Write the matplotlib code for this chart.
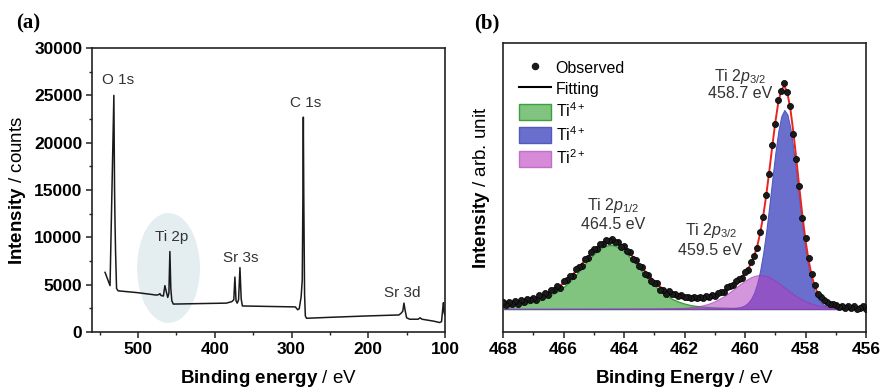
import numpy as np
import matplotlib
matplotlib.use("Agg")
import matplotlib.pyplot as plt
from matplotlib.patches import Ellipse, Patch
from matplotlib.lines import Line2D
from matplotlib.ticker import MultipleLocator

plt.rcParams['font.family'] = ['Liberation Sans', 'DejaVu Sans']
plt.rcParams['mathtext.fontset'] = 'custom'
plt.rcParams['mathtext.rm'] = 'Liberation Sans'
plt.rcParams['mathtext.it'] = 'Liberation Sans:italic'
plt.rcParams['mathtext.bf'] = 'Liberation Sans:bold'

# ---------------- panel (a): survey spectrum ----------------
survey_be = [543, 536.5, 531.5, 530.6, 530.0, 529.3, 528.0, 526.0, 500.0, 476.0, 473.0,
             471.5, 470.0, 467.0, 465.0, 463.0, 461.3, 459.8, 458.5, 457.3, 456.0, 454.0,
             420.0, 385.0, 378.0, 375.2, 373.8, 372.3, 370.8, 369.0, 367.2, 365.6, 364.0,
             330.0, 295.0, 292.0, 290.0, 287.5, 286.0, 285.2, 284.6, 284.0, 283.0, 282.0,
             280.5, 250.0, 200.0, 160.0, 157.0, 155.0, 153.5, 152.0, 150.0, 146.0, 135.0,
             132.5, 130.0, 115.0, 107.0, 104.5, 103.0, 102.0, 101.0, 100.0]
survey_counts = [6300, 4900, 25000, 15000, 11500, 8500, 4600, 4350, 4150, 3900, 3950,
                 4050, 3850, 3800, 4900, 4200, 3650, 4100, 8500, 4600, 3300, 2950,
                 3000, 3050, 3200, 3400, 5800, 3300, 3050, 3400, 6800, 3500, 2750,
                 2700, 2650, 2350, 2450, 3700, 5500, 14000, 22700, 14000, 4000, 1700,
                 1450, 1550, 1700, 1800, 2000, 2200, 3050, 2300, 1500, 1350, 1350,
                 1500, 1350, 1150, 1000, 1100, 2400, 3100, 2000, 1800]
survey_labels = ["O 1s", "Ti 2p", "Sr 3s", "C 1s", "Sr 3d"]
survey_label_be = [526, 456, 366, 281.4, 156]
survey_label_y = [26600, 10060, 7780, 24200, 4150]
survey_yticks = [0, 5000, 10000, 15000, 20000, 25000, 30000]
survey_xticks = [500, 400, 300, 200, 100]

# ---------------- panel (b): Ti 2p high resolution ----------------
be_hr = np.linspace(456.0, 468.0, 121)
observed = [0.1, 2.6, 1.0, -0.2, 3.2, 0.7, 2.8, 1.4, 3.5, 2.4,
            3.9, 4.9, 4.9, 6.8, 8.6, 12.3, 15.3, 24.3, 35.5, 51.1,
            71.2, 91.3, 123.0, 150.5, 174.6, 203.1, 217.2, 226.1, 218.3, 208.9,
            185.3, 164.0, 135.5, 114.4, 91.7, 77.1, 61.1, 53.2, 46.9, 39.1,
            36.9, 30.8, 30.2, 28.5, 23.7, 23.0, 21.7, 16.8, 17.3, 16.4,
            13.2, 14.0, 12.2, 12.9, 11.5, 12.0, 11.3, 12.2, 10.8, 12.3,
            12.2, 13.7, 13.1, 15.1, 14.8, 17.7, 15.2, 19.2, 19.4, 25.6,
            25.8, 28.2, 34.5, 35.3, 42.2, 42.8, 49.3, 50.5, 57.0, 57.9,
            62.8, 62.5, 67.4, 67.3, 69.6, 68.3, 69.0, 65.2, 65.4, 60.5,
            59.8, 57.4, 51.2, 50.1, 42.9, 42.2, 39.8, 33.0, 33.3, 29.1,
            27.8, 21.5, 23.0, 18.8, 19.5, 13.9, 16.0, 12.1, 14.2, 9.4,
            11.5, 8.6, 10.4, 6.6, 8.7, 4.9, 8.2, 5.3, 7.0, 4.3,
            6.9]
ti4_green = [0.25, 0.26, 0.26, 0.27, 0.28, 0.29, 0.29, 0.30, 0.31, 0.32,
             0.33, 0.33, 0.34, 0.35, 0.36, 0.37, 0.38, 0.39, 0.41, 0.42,
             0.43, 0.45, 0.46, 0.47, 0.49, 0.50, 0.52, 0.53, 0.55, 0.57,
             0.59, 0.61, 0.63, 0.66, 0.68, 0.71, 0.74, 0.77, 0.80, 0.83,
             0.87, 0.91, 0.95, 1.00, 1.05, 1.11, 1.18, 1.25, 1.33, 1.42,
             1.55, 1.7, 1.9, 2.1, 2.3, 2.6, 3.0, 3.4, 3.9, 4.6,
             5.4, 6.3, 7.3, 8.6, 10.0, 11.8, 13.7, 15.9, 18.3, 20.9,
             23.8, 27.0, 30.3, 33.8, 37.4, 41.0, 44.7, 48.2, 51.6, 54.8,
             57.6, 60.0, 61.9, 63.2, 63.9, 63.9, 63.2, 61.9, 60.0, 57.6,
             54.8, 51.6, 48.2, 44.7, 41.0, 37.4, 33.8, 30.5, 27.5, 24.6,
             22.0, 19.8, 17.8, 15.9, 14.2, 12.7, 11.3, 10.0, 8.9, 7.9,
             7.0, 6.2, 5.5, 4.9, 4.3, 3.8, 3.4, 3.0, 2.7, 2.4,
             2.2]
ti4_blue = [0.36, 0.39, 0.42, 0.45, 0.49, 0.53, 0.58, 0.64, 0.72, 0.83,
            0.98, 1.25, 1.8, 2.6, 4.2, 6.8, 11.2, 17.5, 27.4, 41.3,
            59.5, 81.9, 107.5, 134.3, 159.8, 180.9, 194.6, 199.0, 192.7, 177.4,
            155.1, 129.0, 102.1, 77.1, 55.5, 38.2, 25.2, 16.0, 10.1, 6.2,
            3.8, 2.4, 1.7, 1.2, 0.94, 0.8, 0.7, 0.62, 0.57, 0.52,
            0.48, 0.44, 0.41, 0.38, 0.36, 0.34, 0.32, 0.31, 0.29, 0.28,
            0.27, 0.26, 0.25, 0.24, 0.23, 0.22, 0.21, 0.20, 0.20, 0.19,
            0.18, 0.18, 0.17, 0.17, 0.16, 0.16, 0.15, 0.15, 0.14, 0.14,
            0.14, 0.13, 0.13, 0.13, 0.13, 0.13, 0.12, 0.12, 0.12, 0.12,
            0.12, 0.11, 0.11, 0.11, 0.11, 0.11, 0.10, 0.10, 0.10, 0.10,
            0.10, 0.10, 0.10, 0.10, 0.10, 0.10, 0.09, 0.09, 0.09, 0.09,
            0.09, 0.08, 0.08, 0.08, 0.08, 0.08, 0.08, 0.08, 0.08, 0.08,
            0.08]
ti2_pink = [0.51, 0.55, 0.58, 0.63, 0.68, 0.73, 0.8, 0.9, 1.0, 1.1,
            1.3, 1.5, 1.8, 2.1, 2.6, 3.1, 3.7, 4.5, 5.4, 6.5,
            7.8, 9.3, 11.0, 12.8, 14.8, 17.0, 19.3, 21.6, 23.9, 26.2,
            28.3, 30.2, 31.8, 33.0, 33.7, 34.0, 33.7, 33.0, 31.8, 30.2,
            28.3, 26.2, 23.9, 21.6, 19.3, 17.0, 14.8, 12.8, 11.0, 9.3,
            7.8, 6.5, 5.4, 4.5, 3.7, 3.1, 2.6, 2.1, 1.8, 1.5,
            1.3, 1.1, 1.0, 0.9, 0.8, 0.73, 0.68, 0.63, 0.58, 0.55,
            0.51, 0.49, 0.46, 0.44, 0.42, 0.40, 0.38, 0.36, 0.35, 0.34,
            0.32, 0.31, 0.30, 0.29, 0.28, 0.26, 0.25, 0.25, 0.24, 0.23,
            0.22, 0.21, 0.21, 0.20, 0.19, 0.18, 0.18, 0.17, 0.17, 0.16,
            0.16, 0.15, 0.15, 0.14, 0.14, 0.14, 0.13, 0.13, 0.12, 0.12,
            0.12, 0.11, 0.11, 0.11, 0.10, 0.10, 0.10, 0.10, 0.09, 0.09,
            0.09]
background = ([0.5] * 16 + [0.6, 0.7, 0.8, 0.9, 1.0, 1.1, 1.2, 1.4, 1.5, 1.7, 1.8, 2.0, 2.1, 2.2,
              2.3, 2.4, 2.5, 2.6, 2.6, 2.7, 2.7, 2.8, 2.8, 2.8, 2.9] + [2.9] * 15 + [3.0] * 10
              + [3.1] * 10 + [3.3] * 10 + [3.5] * 10 + [3.6] * 10 + [3.7] * 15)
hr_xticks = [468, 466, 464, 462, 460, 458, 456]
legend_labels = ["Observed", "Fitting", r"Ti$^{4+}$", r"Ti$^{4+}$", r"Ti$^{2+}$"]

fitting = (np.array(ti4_green) + np.array(ti4_blue) + np.array(ti2_pink)
           + np.array(background))

# ---------------- figure ----------------
fig = plt.figure(figsize=(8.81, 3.92), dpi=100)
axa = fig.add_axes([92 / 881, 1 - 332 / 392, (445 - 92) / 881, (332 - 48) / 392])
axb = fig.add_axes([503 / 881, 1 - 332 / 392, (866 - 503) / 881, (332 - 43) / 392])

spine_c = '#222222'
for ax in (axa, axb):
    for s in ax.spines.values():
        s.set_linewidth(1.2)
        s.set_color(spine_c)
    ax.tick_params(which='both', direction='out', top=False, right=False, color=spine_c)
    ax.tick_params(which='major', length=4, width=1.1, labelsize=12.5, pad=3)
    ax.tick_params(which='minor', length=2.5, width=1.0)

# panel (a)
axa.add_patch(Ellipse((460.3, 6760), width=82, height=11600, facecolor='#e4eef1',
                      edgecolor='none', zorder=0))
axa.plot(survey_be, survey_counts, color='#1a1a1a', lw=1.1, zorder=2)
axa.set_xlim(560, 100)
axa.set_ylim(0, 30000)
axa.set_xticks(survey_xticks)
axa.set_yticks(survey_yticks)
axa.xaxis.set_minor_locator(MultipleLocator(50))
axa.yaxis.set_minor_locator(MultipleLocator(2500))
for lbl in axa.get_xticklabels() + axa.get_yticklabels():
    lbl.set_fontweight('bold')
for t, xb, yc in zip(survey_labels, survey_label_be, survey_label_y):
    axa.text(xb, yc, t, ha='center', va='center', fontsize=11, color='#333333')
axa.set_xlabel(r"$\mathbf{Binding\ energy\ }$/ eV", fontsize=13.5, labelpad=8)
axa.set_ylabel(r"$\mathbf{Intensity\ }$/ counts", fontsize=13.5, labelpad=4)

# panel (b)
axb.fill_between(be_hr, 0, ti4_green, facecolor='#80c480', edgecolor='#3f9f3f', lw=1.0, zorder=1)
axb.fill_between(be_hr, 0, ti4_blue, facecolor='#6a6ecd', edgecolor='#5558c0', lw=0.8, zorder=2)
axb.fill_between(be_hr, 0, ti2_pink, facecolor='#b040c0', alpha=0.55, edgecolor='#9a30b0',
                 lw=0.8, zorder=3)
axb.plot(be_hr, fitting, color='#e8251d', lw=1.4, zorder=4)
axb.plot(be_hr, observed, ls='none', marker='o', markersize=4.4, color='#1a1a1a',
         markeredgecolor='black', markeredgewidth=0.5, zorder=5)
axb.set_xlim(468, 456)
axb.set_ylim(-23, 266)
axb.set_xticks(hr_xticks)
axb.xaxis.set_minor_locator(MultipleLocator(1))
axb.set_yticks([])
for lbl in axb.get_xticklabels():
    lbl.set_fontweight('bold')
axb.set_xlabel(r"$\mathbf{Binding\ Energy\ }$/ eV", fontsize=13.5, labelpad=8)
axb.set_ylabel(r"$\mathbf{Intensity\ }$/ arb. unit", fontsize=13.5, labelpad=8)

ann_c = '#333333'
axb.text(460.17, 232, r"Ti 2$\mathit{p}_{3/2}$", ha='center', va='center', fontsize=11.5, color=ann_c)
axb.text(460.17, 216, "458.7 eV", ha='center', va='center', fontsize=11.5, color=ann_c)
axb.text(464.35, 104, r"Ti 2$\mathit{p}_{1/2}$", ha='center', va='center', fontsize=11.5, color=ann_c)
axb.text(464.35, 85, "464.5 eV", ha='center', va='center', fontsize=11.5, color=ann_c)
axb.text(461.1, 79, r"Ti 2$\mathit{p}_{3/2}$", ha='center', va='center', fontsize=11.5, color=ann_c)
axb.text(461.15, 59, "459.5 eV", ha='center', va='center', fontsize=11.5, color=ann_c)

handles = [Line2D([], [], ls='none', marker='o', markersize=4.4, color='#1a1a1a'),
           Line2D([], [], color='black', lw=1.5),
           Patch(facecolor='#80c480', edgecolor='#3f9f3f'),
           Patch(facecolor='#6a6ecd', edgecolor='#5558c0'),
           Patch(facecolor='#d68ad8', edgecolor='#c070c8')]
axb.legend(handles, legend_labels, loc='upper left', bbox_to_anchor=(0.035, 0.955),
           frameon=False, fontsize=11.5, handlelength=2.0, handleheight=1.15,
           labelspacing=0.3, handletextpad=0.3, borderaxespad=0, borderpad=0.2)

fig.text(28 / 881, 1 - 23 / 392, "(a)", fontsize=15, fontweight='bold',
         family='Liberation Serif', ha='center', va='center')
fig.text(487 / 881, 1 - 23 / 392, "(b)", fontsize=15, fontweight='bold',
         family='Liberation Serif', ha='center', va='center')

fig.savefig("out.png", dpi=100)
